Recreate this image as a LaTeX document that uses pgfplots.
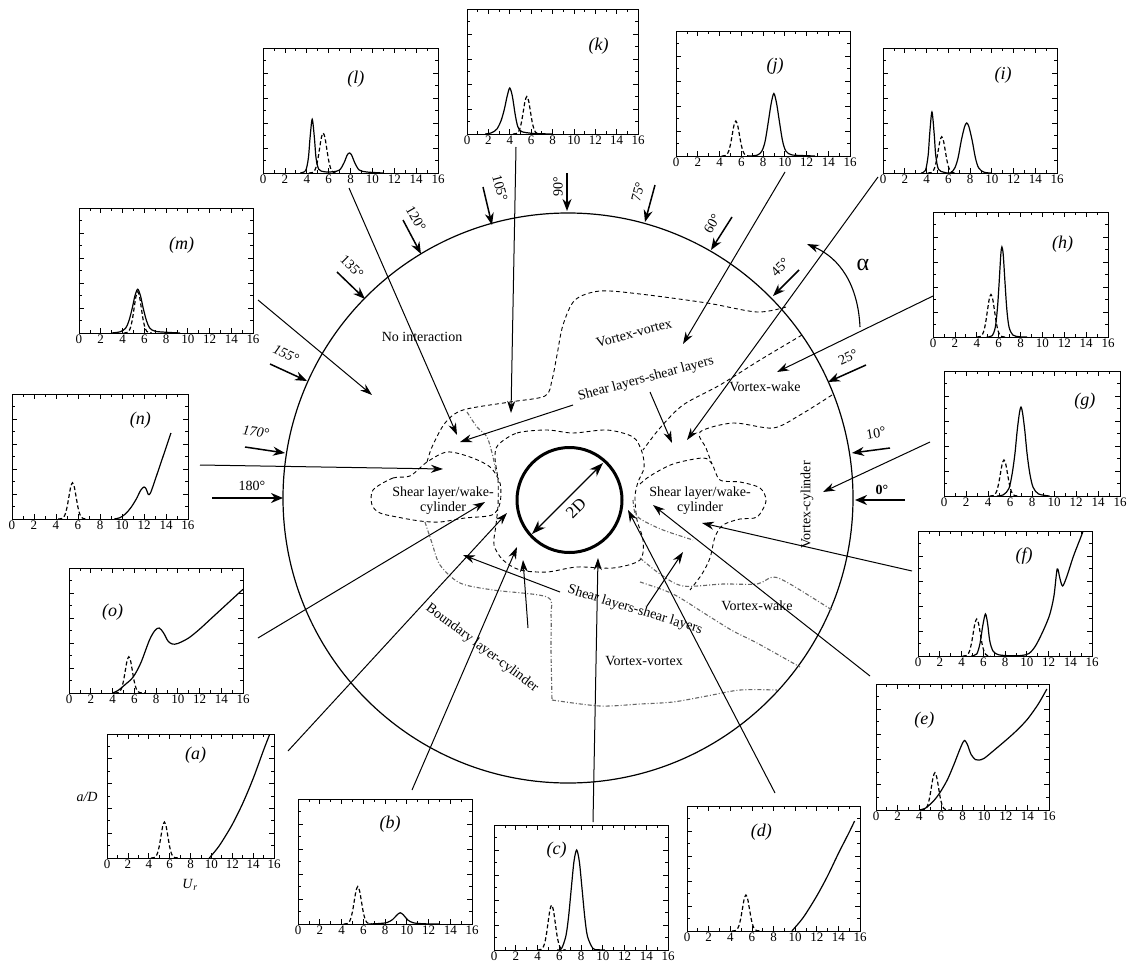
\documentclass[border=0pt]{standalone}
\usepackage{fontspec}
\setmainfont{Liberation Serif}
\usepackage{pgfplots}
\pgfplotsset{compat=1.18}
\usetikzlibrary{arrows.meta}
\newcommand\fs[1]{\fontsize{#1}{#1}\selectfont}
\pgfplotsset{
  inset/.style={
    scale only axis, width=174pt, height=125pt, anchor=south west,
    xmin=0,xmax=16,ymin=0,ymax=5,
    xtick={0,2,...,16}, minor x tick num=1,
    ytick={0,1,2,3,4,5}, yticklabels={}, minor y tick num=1,
    tick align=inside, major tick length=5pt, minor tick length=3pt,
    axis line style={line width=0.9pt}, every tick/.style={black,line width=0.7pt},
    xticklabel style={font=\fs{13}, inner sep=2pt},
    /pgf/number format/assume math mode=true,
  },
  sol/.style={black, line width=1.2pt, smooth, no marks},
  das/.style={black, line width=1.2pt, smooth, no marks, dash pattern=on 4pt off 2.5pt},
}
\tikzset{
  lab/.style={font=\itshape\fs{18}},
  arr/.style={line width=1pt,-{Stealth[length=12pt,width=8pt]}},
  ang/.style={line width=1.5pt,-{Stealth[length=12pt,width=9pt]}},
  cont/.style={line width=0.9pt, dash pattern=on 4pt off 3pt},
  gcont/.style={line width=1.1pt, gray!80!black, dash pattern=on 4pt off 2pt on 1pt off 2pt},
}
\begin{document}
\begin{tikzpicture}[x=1pt,y=-1pt]
\path[use as bounding box] (0,0) rectangle (1128,964);

% ---------------- insets ----------------
% (k)
\begin{axis}[inset, width=171pt, at={(467pt,-134pt)}]
\addplot[das] coordinates {(4.3,0)(4.61,0.017)(4.775,0.066)(4.94,0.203)(5.105,0.488)(5.27,0.911)(5.435,1.325)(5.6,1.5)(5.765,1.325)(5.93,0.911)(6.095,0.488)(6.26,0.203)(6.425,0.066)(6.59,0.017)(6.9,0)};
\addplot[sol] coordinates {(1.7,0)(2.3,0.05)(2.8,0.2)(3.2,0.55)(3.5,1.0)(3.75,1.5)(4.0,1.84)(4.25,1.5)(4.5,0.8)(4.75,0.3)(5.1,0.1)(6,0.03)(7,0.01)(8,0)};
\node[lab] at (rel axis cs:0.77,0.7) {(k)};
\end{axis}
% (j)
\begin{axis}[inset, at={(676pt,-156pt)}]
\addplot[das] coordinates {(4.2,0)(4.51,0.015)(4.675,0.062)(4.84,0.189)(5.005,0.455)(5.17,0.85)(5.335,1.236)(5.5,1.4)(5.665,1.236)(5.83,0.85)(5.995,0.455)(6.16,0.189)(6.325,0.062)(6.49,0.015)(6.8,0)};
\addplot[sol] coordinates {(6.8,0)(7.5,0.04)(7.9,0.2)(8.2,0.6)(8.5,1.4)(8.75,2.1)(9.0,2.5)(9.25,2.1)(9.5,1.4)(9.8,0.6)(10.1,0.2)(10.6,0.05)(11.5,0.02)(12.8,0)};
\node[lab] at (rel axis cs:0.57,0.72) {(j)};
\end{axis}
% (i)
\begin{axis}[inset, at={(883pt,-173pt)}]
\addplot[das] coordinates {(4.1,0)(4.41,0.016)(4.575,0.064)(4.74,0.196)(4.905,0.471)(5.07,0.88)(5.235,1.28)(5.4,1.45)(5.565,1.28)(5.73,0.88)(5.895,0.471)(6.06,0.196)(6.225,0.064)(6.39,0.016)(6.7,0)};
\addplot[sol] coordinates {(3.5,0)(3.9,0.1)(4.15,0.7)(4.3,1.6)(4.5,2.44)(4.7,1.6)(4.85,0.7)(5.1,0.15)(5.6,0.03)(6.2,0.0)(6.6,0.2)(6.9,0.6)(7.2,1.3)(7.5,1.85)(7.7,2.0)(7.9,1.85)(8.2,1.3)(8.5,0.6)(8.8,0.2)(9.3,0.03)(10,0)};
\node[lab] at (rel axis cs:0.69,0.78) {(i)};
\end{axis}
% (l)
\begin{axis}[inset, width=175pt, at={(263pt,-173pt)}]
\addplot[das] coordinates {(4.2,0)(4.51,0.018)(4.675,0.07)(4.84,0.216)(5.005,0.52)(5.17,0.971)(5.335,1.413)(5.5,1.6)(5.665,1.413)(5.83,0.971)(5.995,0.52)(6.16,0.216)(6.325,0.07)(6.49,0.018)(6.8,0)};
\addplot[sol] coordinates {(3.4,0)(3.9,0.1)(4.15,0.6)(4.3,1.4)(4.5,2.15)(4.7,1.4)(4.85,0.6)(5.1,0.15)(5.6,0.05)(6.4,0.05)(7.0,0.12)(7.4,0.4)(7.7,0.72)(7.9,0.8)(8.1,0.72)(8.4,0.4)(8.8,0.12)(9.5,0.04)(11,0)};
\node[lab] at (rel axis cs:0.53,0.75) {(l)};
\end{axis}
% (m)
\begin{axis}[inset, at={(79pt,-333pt)}]
\addplot[das] coordinates {(4.1,0)(4.41,0.018)(4.575,0.073)(4.74,0.223)(4.905,0.536)(5.07,1.0)(5.235,1.457)(5.4,1.65)(5.565,1.457)(5.73,1.0)(5.895,0.536)(6.06,0.223)(6.225,0.073)(6.39,0.018)(6.7,0)};
\addplot[sol] coordinates {(3,0)(3.8,0.05)(4.3,0.2)(4.6,0.5)(4.9,1.0)(5.15,1.5)(5.4,1.75)(5.65,1.5)(5.9,1.0)(6.2,0.5)(6.5,0.2)(7,0.07)(8,0.03)(9.3,0)};
\node[lab] at (rel axis cs:0.59,0.7) {(m)};
\end{axis}
% (h)
\begin{axis}[inset, width=175pt, at={(933pt,-337pt)}]
\addplot[das] coordinates {(4.0,0)(4.31,0.019)(4.475,0.075)(4.64,0.23)(4.805,0.553)(4.97,1.032)(5.135,1.501)(5.3,1.7)(5.465,1.501)(5.63,1.032)(5.795,0.553)(5.96,0.23)(6.125,0.075)(6.29,0.019)(6.6,0)};
\addplot[sol] coordinates {(4.9,0)(5.4,0.05)(5.7,0.4)(5.9,1.2)(6.05,2.2)(6.2,3.3)(6.3,3.6)(6.42,3.3)(6.58,2.2)(6.75,1.1)(6.95,0.4)(7.3,0.08)(7.9,0.01)(8.6,0)};
\node[lab] at (rel axis cs:0.74,0.74) {(h)};
\end{axis}
% (n)
\begin{axis}[inset, width=176pt, at={(12pt,-519pt)}]
\addplot[das] coordinates {(4.2,0)(4.51,0.016)(4.675,0.064)(4.84,0.196)(5.005,0.471)(5.17,0.88)(5.335,1.28)(5.5,1.45)(5.665,1.28)(5.83,0.88)(5.995,0.471)(6.16,0.196)(6.325,0.064)(6.49,0.016)(6.8,0)};
\addplot[sol] coordinates {(9.3,0)(9.8,0.05)(10.3,0.2)(10.8,0.45)(11.3,0.8)(11.7,1.15)(12.0,1.28)(12.2,1.2)(12.4,0.98)(12.6,1.05)(13,1.55)(13.5,2.2)(14,2.85)(14.45,3.44)};
\node[lab] at (rel axis cs:0.73,0.79) {(n)};
\end{axis}
% (g)
\begin{axis}[inset, width=176pt, at={(944pt,-496pt)}]
\addplot[das] coordinates {(4.15,0)(4.46,0.016)(4.625,0.063)(4.79,0.194)(4.955,0.468)(5.12,0.874)(5.285,1.272)(5.45,1.44)(5.615,1.272)(5.78,0.874)(5.945,0.468)(6.11,0.194)(6.275,0.063)(6.44,0.016)(6.75,0)};
\addplot[sol] coordinates {(4.8,0)(5.4,0.05)(5.9,0.3)(6.2,0.9)(6.45,1.7)(6.65,2.6)(6.85,3.3)(7.0,3.56)(7.15,3.3)(7.35,2.6)(7.55,1.7)(7.8,0.9)(8.1,0.35)(8.6,0.08)(9.6,0)};
\node[lab] at (rel axis cs:0.8,0.76) {(g)};
\end{axis}
% (f)
\begin{axis}[inset, at={(918pt,-656pt)}]
\addplot[das] coordinates {(4.1,0)(4.41,0.016)(4.575,0.065)(4.74,0.2)(4.905,0.481)(5.07,0.898)(5.235,1.307)(5.4,1.48)(5.565,1.307)(5.73,0.898)(5.895,0.481)(6.06,0.2)(6.225,0.065)(6.39,0.016)(6.7,0)};
\addplot[sol] coordinates {(4.9,0)(5.4,0.08)(5.7,0.5)(5.95,1.2)(6.2,1.68)(6.4,1.3)(6.6,0.6)(6.9,0.2)(7.4,0.05)(8.5,0.01)(9.5,0.02)(10.2,0.1)(10.8,0.4)(11.5,1.0)(12.1,1.64)(12.5,2.4)(12.8,3.48)(13.05,3.1)(13.3,2.8)(13.7,3.2)(14.3,4.0)(15.1,4.9)(15.3,5.2)};
\node[lab] at (rel axis cs:0.61,0.8) {(f)};
\end{axis}
% (e)
\begin{axis}[inset, width=173pt, height=126pt, at={(876pt,-810pt)}]
\addplot[das] coordinates {(4.15,0)(4.46,0.016)(4.625,0.065)(4.79,0.2)(4.955,0.481)(5.12,0.898)(5.285,1.307)(5.45,1.48)(5.615,1.307)(5.78,0.898)(5.945,0.481)(6.11,0.2)(6.275,0.065)(6.44,0.016)(7.0,0)};
\addplot[sol] coordinates {(4,0)(4.6,0.08)(5.3,0.35)(5.9,0.68)(6.6,1.2)(7.2,1.8)(7.7,2.35)(8.0,2.65)(8.2,2.76)(8.45,2.6)(8.8,2.2)(9.2,2.0)(9.5,1.98)(10,2.05)(11,2.4)(12.1,2.8)(13,3.15)(14,3.6)(15,4.2)(15.8,4.8)};
\node[lab] at (rel axis cs:0.28,0.71) {(e)};
\end{axis}
% (o)
\begin{axis}[inset, at={(69pt,-693pt)}]
\addplot[das] coordinates {(4.2,0)(4.51,0.016)(4.675,0.064)(4.84,0.196)(5.005,0.471)(5.17,0.88)(5.335,1.28)(5.5,1.45)(5.665,1.28)(5.83,0.88)(5.995,0.471)(6.16,0.196)(6.325,0.064)(6.49,0.016)(7.0,0)};
\addplot[sol] coordinates {(4,0)(4.5,0.1)(5.2,0.35)(5.9,0.64)(6.6,1.2)(7.4,2.12)(7.9,2.5)(8.3,2.6)(8.7,2.4)(9.1,2.08)(9.5,1.96)(10,1.98)(11,2.2)(12,2.55)(13,2.95)(14,3.35)(15,3.75)(16,4.15)};
\node[lab] at (rel axis cs:0.25,0.65) {(o)};
\end{axis}
% (a)
\begin{axis}[inset, width=167pt, height=124pt, at={(107pt,-858pt)}]
\addplot[das] coordinates {(4.2,0)(4.51,0.016)(4.675,0.064)(4.84,0.196)(5.005,0.471)(5.17,0.88)(5.335,1.28)(5.5,1.45)(5.665,1.28)(5.83,0.88)(5.995,0.471)(6.16,0.196)(6.325,0.064)(6.49,0.016)(7.0,0)};
\addplot[sol] coordinates {(9.8,0)(10.5,0.35)(11,0.65)(12,1.35)(13,2.2)(14,3.2)(15,4.35)(15.6,5)};
\node[lab] at (rel axis cs:0.53,0.83) {(a)};
\end{axis}
% (b)
\begin{axis}[inset, at={(298pt,-924pt)}]
\addplot[das] coordinates {(4.2,0)(4.51,0.017)(4.675,0.066)(4.84,0.203)(5.005,0.488)(5.17,0.911)(5.335,1.325)(5.5,1.5)(5.665,1.325)(5.83,0.911)(5.995,0.488)(6.16,0.203)(6.325,0.066)(6.49,0.017)(6.8,0)};
\addplot[sol] coordinates {(6.5,0)(7.5,0.02)(8.2,0.06)(8.7,0.18)(9.1,0.36)(9.4,0.45)(9.7,0.36)(10.1,0.16)(10.6,0.05)(11.5,0.01)(13,0)};
\node[lab] at (rel axis cs:0.53,0.8) {(b)};
\end{axis}
% (c)
\begin{axis}[inset, at={(494pt,-950pt)}]
\addplot[das] coordinates {(4.0,0)(4.31,0.02)(4.475,0.079)(4.64,0.243)(4.805,0.585)(4.97,1.093)(5.135,1.589)(5.3,1.8)(5.465,1.589)(5.63,1.093)(5.795,0.585)(5.96,0.243)(6.125,0.079)(6.29,0.02)(6.6,0)};
\addplot[sol] coordinates {(5.8,0)(6.2,0.05)(6.6,0.54)(6.85,1.3)(7.1,2.43)(7.35,3.53)(7.6,4.0)(7.85,3.53)(8.1,2.43)(8.35,1.3)(8.6,0.54)(9.1,0.06)(9.6,0.01)(10.2,0)};
\node[lab] at (rel axis cs:0.36,0.8) {(c)};
\end{axis}
% (d)
\begin{axis}[inset, width=173pt, at={(687pt,-931pt)}]
\addplot[das] coordinates {(4.15,0)(4.46,0.016)(4.625,0.063)(4.79,0.194)(4.955,0.468)(5.12,0.874)(5.285,1.272)(5.45,1.44)(5.615,1.272)(5.78,0.874)(5.945,0.468)(6.11,0.194)(6.275,0.063)(6.44,0.016)(7.0,0)};
\addplot[sol] coordinates {(9.7,0)(10.5,0.4)(11,0.7)(12,1.4)(13,2.2)(14,3.1)(15,3.95)(15.5,4.4)};
\node[lab] at (rel axis cs:0.43,0.79) {(d)};
\end{axis}

% ---------------- big circle and cylinder ----------------
\draw[line width=1.2pt] (568,498) circle[radius=285pt];
\draw[line width=3pt] (569.5,500) circle[radius=52.5pt];
\draw[line width=1.3pt,{Stealth[length=14pt,width=10pt]}-{Stealth[length=14pt,width=10pt]}] (532,534) -- (603,463);
\node[font=\fs{17},rotate=45] at (576,508) {2D};

% ---------------- contours ----------------
\draw[cont] plot[smooth cycle] coordinates {(498,445)(517,433)(547,430)(573,433)(607,430)(633,437)(642,452)(644,468)(638,482)(635,497)(637,520)(643,540)(640,560)(613,568)(577,567)(547,572)(520,570)(503,560)(494,545)(496,525)(498,505)(498,480)(495,458)};
\draw[cont] plot[smooth cycle] coordinates {(373,490)(393,478)(410,476)(427,462)(447,452)(470,457)(490,467)(500,483)(500,503)(492,515)(465,518)(440,522)(420,521)(397,517)(380,513)(372,505)};
\draw[cont] plot[smooth] coordinates {(640,484)(650,476)(673,464)(703,458)(712,464)(720,480)(740,482)(760,488)(766,501)(757,517)(740,519)(723,525)(715,537)(710,558)(702,574)(690,590)};
\draw[cont] plot[smooth] coordinates {(786,307)(757,312)(707,303)(640,294)(600,291)(575,300)(563,325)(557,355)(552,380)(545,396)(510,402)(463,410)(445,423)(432,447)(427,462)};
\draw[gcont] plot[smooth] coordinates {(467,412)(477,427)(487,437)(493,457)(497,477)};
\draw[cont] plot[smooth] coordinates {(802,335)(760,360)(720,385)(683,405)(660,428)(643,450)};
\draw[cont] plot[smooth] coordinates {(832,395)(800,415)(773,428)(733,423)(700,432)(706,448)(712,464)};
\draw[gcont] plot[smooth] coordinates {(633,500)(635,513)(642,520)(663,530)(693,540)};
\draw[gcont] plot[smooth] coordinates {(640,558)(660,574)(683,586)(723,584)(757,584)(773,577)(790,584)(832,610)};
\draw[gcont] plot[smooth] coordinates {(640,582)(673,594)(707,615)(733,631)(757,643)(800,667)};
\draw[gcont] plot[smooth] coordinates {(552,700)(600,706)(640,704)(673,702)(707,696)(740,690)(777,690)};
\draw[gcont] plot[smooth] coordinates {(425,522)(432,543)(440,565)(460,583)(493,590)(547,597)(551,615)(551,650)(552,700)};

% ---------------- region labels ----------------
\node[font=\fs{14}] at (422,337) {No interaction};
\node[font=\fs{14},rotate=15] at (634,333) {Vortex-vortex};
\node[font=\fs{14},rotate=15] at (646,379) {Shear layers-shear layers};
\node[font=\fs{14}] at (765,387) {Vortex-wake};
\node[font=\fs{14},rotate=90] at (807,505) {Vortex-cylinder};
\node[font=\fontsize{14}{15}\selectfont,align=center,inner sep=0pt] at (700,501) {Shear layer/wake-\\cylinder};
\node[font=\fontsize{14}{15}\selectfont,align=center,inner sep=0pt] at (443,501) {Shear layer/wake-\\cylinder};
\node[font=\fs{14},rotate=-17] at (635,610) {Shear layers-shear layers};
\node[font=\fs{14}] at (757,606) {Vortex-wake};
\node[font=\fs{14}] at (644,661) {Vortex-vortex};
\node[font=\fs{14},rotate=-37,inner sep=1pt] at (482,648) {Boundary layer-cylinder};

% ---------------- arrows from insets ----------------
\draw[arr] (516,147) -- (511,413);
\draw[arr] (349,188) -- (457,435);
\draw[arr] (258,300) -- (372,395);
\draw[arr] (200,465) -- (443,469);
\draw[arr] (258,638) -- (485,502);
\draw[arr] (288,751) -- (507,513);
\draw[arr] (412,790) -- (517,547);
\draw[arr] (528,628) -- (523,560);
\draw[arr] (593,822) -- (598,558);
\draw[arr] (775,793) -- (628,510);
\draw[arr] (870,676) -- (653,505);
\draw[arr] (912,571) -- (702,523);
\draw[arr] (930,442) -- (823,492);
\draw[arr] (933,296) -- (777,372);
\draw[arr] (878,177) -- (687,440);
\draw[arr] (785,172) -- (683,344);
\draw[arr] (573,405) -- (460,442);
\draw[arr] (650,392) -- (672,443);
\draw[arr] (560,592) -- (463,555);
\draw[arr] (647,606) -- (683,552);

% ---------------- angle marks ----------------
\draw[ang] (567,173) -- (567,211);
\node[font=\fs{14},rotate=90] at (558,187) {90°};
\draw[ang] (483,187) -- (492,225);
\node[font=\fs{14},rotate=-75] at (500,188) {105°};
\draw[ang] (403,220) -- (421,254);
\node[font=\fs{14},rotate=-60] at (416,219) {120°};
\draw[ang] (337,272) -- (365,299);
\node[font=\fs{14},rotate=-45] at (352,267) {135°};
\draw[ang] (270,364) -- (307,381);
\node[font=\itshape\fs{14},rotate=-25] at (286,354) {155°};
\draw[ang] (245,447) -- (285,453);
\node[font=\itshape\fs{14},rotate=-8] at (256,432) {170°};
\draw[line width=2.2pt,-{Stealth[length=12pt,width=10pt]}] (212,498) -- (283,498);
\node[font=\fs{14}] at (252,486) {180°};
\draw[line width=2.2pt,-{Stealth[length=12pt,width=10pt]}] (905,500) -- (855,500);
\node[font=\bfseries\fs{14}] at (882,490) {0°};
\draw[ang] (890,448) -- (852,453);
\node[font=\fs{14},rotate=10] at (876,433) {10°};
\draw[ang] (866,365) -- (828,382);
\node[font=\fs{14},rotate=25] at (848,357) {25°};
\draw[ang] (799,270) -- (773,296);
\node[font=\fs{14},rotate=45] at (780,267) {45°};
\draw[ang] (732,217) -- (711,250);
\node[font=\fs{14},rotate=60] at (712,224) {60°};
\draw[ang] (655,185) -- (645,222);
\node[font=\fs{14},rotate=75] at (638,192) {75°};

% alpha arc
\draw[line width=1.1pt,-{Stealth[length=12pt,width=8pt]}] (860,327) .. controls (858,285) and (840,258) .. (807,244);
\node[font=\fs{24}] at (863,265) {α};

% axis labels of (a)
\node[font=\itshape\fs{14}] at (87,797) {a/D};
\node[font=\fs{14}] at (190,885) {\textit{U}\textsubscript{\textit{r}}};
\end{tikzpicture}
\end{document}
